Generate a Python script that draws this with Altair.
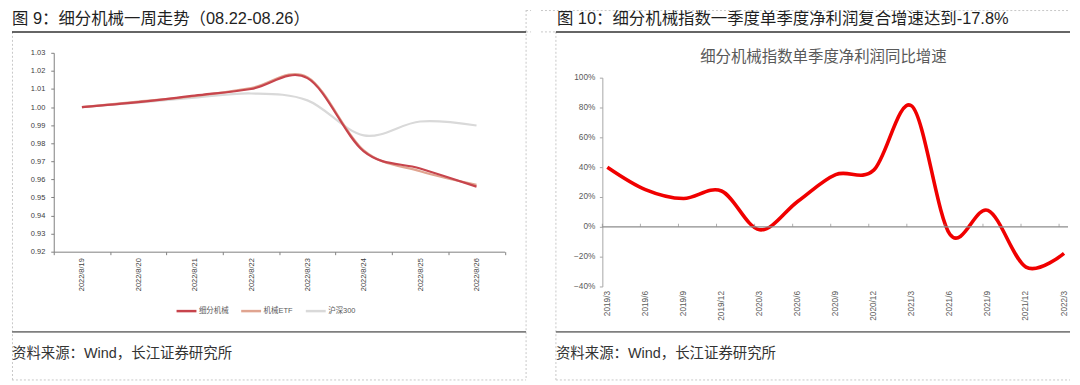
import altair as alt
import pandas as pd

# ---------------- data ----------------
dates = ["2022/8/19", "2022/8/20", "2022/8/21", "2022/8/22",
         "2022/8/23", "2022/8/24", "2022/8/25", "2022/8/26"]
xifen_jixie = [1.000, 1.0027, 1.0063, 1.0100, 1.0160, 0.9755, 0.9660, 0.9560]
jixie_etf = [1.000, 1.0030, 1.0060, 1.0105, 1.0165, 0.9760, 0.9645, 0.9570]
hs300 = [1.000, 1.0024, 1.0052, 1.0075, 1.0037, 0.9843, 0.9920, 0.9898]
series_names = ["细分机械", "机械ETF", "沪深300"]
series_colors = ["#C7444C", "#E0A490", "#D9D9D9"]
left_y_ticks = [0.92, 0.93, 0.94, 0.95, 0.96, 0.97, 0.98, 0.99, 1.00, 1.01, 1.02, 1.03]

quarters = ["2019/3", "2019/6", "2019/9", "2019/12", "2020/3", "2020/6", "2020/9",
            "2020/12", "2021/3", "2021/6", "2021/9", "2021/12", "2022/3"]
profit_growth = [0.40, 0.25, 0.19, 0.24, -0.02, 0.17, 0.35, 0.38, 0.81,
                 -0.05, 0.11, -0.27, -0.178]
right_y_ticks = [-0.4, -0.2, 0.0, 0.2, 0.4, 0.6, 0.8, 1.0]

left_title = "图 9：细分机械一周走势（08.22-08.26）"
right_title = "图 10：细分机械指数一季度单季度净利润复合增速达到-17.8%"
inner_title = "细分机械指数单季度净利润同比增速"
source_text = "资料来源：Wind，长江证券研究所"

FONT = "Liberation Sans, Noto Sans CJK SC"
LATIN = "Liberation Sans"
DASH_COLOR = "#C8C8C8"

one = pd.DataFrame({"k": [0]})


def rule(x, y, x2=None, y2=None, color="#000", width=1.0, dash=None):
    enc = dict(x=alt.value(x), y=alt.value(y))
    if x2 is not None:
        enc["x2"] = alt.value(x2)
    if y2 is not None:
        enc["y2"] = alt.value(y2)
    mk = dict(color=color, strokeWidth=width)
    if dash:
        mk["strokeDash"] = dash
    return alt.Chart(one).mark_rule(**mk).encode(**enc)


def text(s, x, y, size, color, align="left"):
    return alt.Chart(one).mark_text(
        text=s, align=align, baseline="middle", fontSize=size, color=color, font=FONT
    ).encode(x=alt.value(x), y=alt.value(y))


# ---------------- left panel ----------------
W1, H = 522, 372
rows = []
for name, vals in zip(series_names, [xifen_jixie, jixie_etf, hs300]):
    for d, v in zip(dates, vals):
        rows.append({"date": d, "series": name, "value": v})
ldf = pd.DataFrame(rows)

lx = alt.X("date:N", sort=dates,
           scale=alt.Scale(type="band", domain=dates, range=[42, 495.5],
                           paddingInner=0, paddingOuter=0),
           axis=alt.Axis(title=None, labelAngle=270, labelFontSize=7.5, labelFont=LATIN,
                         labelColor="#404040", tickBand="extent", tickSize=3,
                         tickColor="#808080", domainColor="#808080", domainWidth=1,
                         labelPadding=3, offset=-129, grid=False))
ly = alt.Y("value:Q",
           scale=alt.Scale(domain=[0.92, 1.03], range=[243, 43], nice=False, zero=False),
           axis=alt.Axis(title=None, values=left_y_ticks, format=".2f", offset=-42,
                         tickSize=3, labelPadding=6, labelFontSize=7.5, labelFont=LATIN,
                         labelColor="#404040", tickColor="#808080", domainColor="#808080",
                         grid=False))
lcolor = alt.Color("series:N",
                   scale=alt.Scale(domain=series_names, range=series_colors),
                   legend=alt.Legend(orient="none", legendX=164, legendY=291,
                                     direction="horizontal", title=None,
                                     symbolType="stroke", symbolSize=400,
                                     symbolStrokeWidth=2.5, labelFontSize=7.5,
                                     labelFont=FONT, labelColor="#595959",
                                     columnPadding=7, labelOffset=1, padding=0))

line_layers = []
for name in reversed(series_names):
    line_layers.append(
        alt.Chart(ldf[ldf["series"] == name]).mark_line(
            interpolate="cardinal", strokeWidth=2.2
        ).encode(x=lx, y=ly, color=lcolor)
    )

left = alt.layer(
    rule(0.5, 22, y2=372, color=DASH_COLOR, dash=[2, 2]),
    rule(517, 0, y2=372, color=DASH_COLOR, dash=[2, 2]),
    rule(0, 372, x2=517, color=DASH_COLOR, dash=[2, 2]),
    rule(517, 0.5, x2=522, color=DASH_COLOR, dash=[2, 2]),
    rule(517, 22, x2=522, color=DASH_COLOR, dash=[2, 2]),
    text(left_title, 0, 9.5, 16.5, "#1F1F1F"),
    rule(0, 22, x2=517, color="#333333", width=1.5),
    *line_layers,
    rule(0, 323.7, x2=517, color="#7F7F7F", width=1.8),
    text(source_text, 0, 345.5, 14.5, "#333333"),
).properties(width=W1, height=H)

# ---------------- right panel ----------------
W2 = 532
rdf = pd.DataFrame({"quarter": quarters, "growth": profit_growth})

rx = alt.X("quarter:O", sort=quarters,
           scale=alt.Scale(type="point", domain=quarters, range=[66.7, 526], padding=0),
           axis=alt.Axis(title=None, labelAngle=270, labelFontSize=8.3, labelFont=LATIN,
                         labelColor="#595959", ticks=False, domain=False,
                         labelPadding=4, offset=-94, grid=False))
ry = alt.Y("growth:Q",
           scale=alt.Scale(domain=[-0.4, 1.0], range=[278, 68], nice=False, zero=False),
           axis=alt.Axis(title=None, values=right_y_ticks, format=".0%", offset=-61.7,
                         tickSize=3, labelPadding=4.5, labelFontSize=8.3, labelFont=LATIN,
                         labelColor="#595959", tickColor="#A6A6A6", domainColor="#A6A6A6",
                         grid=False))

zero_df = pd.DataFrame({"growth": [0.0]})
zero_line = alt.Chart(zero_df).mark_rule(color="#8C8C8C", strokeWidth=1.3).encode(
    y=alt.Y("growth:Q", scale=alt.Scale(domain=[-0.4, 1.0], range=[278, 68], nice=False, zero=False)),
    x=alt.value(61.7), x2=alt.value(530))

zero_ticks = alt.Chart(rdf.assign(zero=0.0)).mark_tick(
    orient="vertical", size=3, thickness=1, color="#8C8C8C", xOffset=-5, yOffset=-1.5
).encode(x=alt.X("quarter:O", sort=quarters), y=alt.Y("zero:Q"))

red_line = alt.Chart(rdf).mark_line(
    interpolate="cardinal", strokeWidth=3.6, color="#F00000"
).encode(x=rx, y=ry)

right = alt.layer(
    rule(0, 0.5, x2=532, color=DASH_COLOR, dash=[2, 2]),
    rule(0, 22, x2=15, color=DASH_COLOR, dash=[2, 2]),
    rule(15, 22, y2=372, color=DASH_COLOR, dash=[2, 2]),
    rule(15, 372, x2=532, color=DASH_COLOR, dash=[2, 2]),
    text(right_title, 16, 9.5, 16.5, "#1F1F1F"),
    rule(15, 22, x2=532, color="#333333", width=1.5),
    text(inner_title, 284, 47.5, 15.5, "#595959", align="center"),
    red_line,
    zero_line,
    zero_ticks,
    rule(15, 323.7, x2=532, color="#7F7F7F", width=1.8),
    text(source_text, 15, 345.5, 14.5, "#333333"),
).properties(width=W2, height=H)

chart = alt.hconcat(left, right, spacing=10, bounds="flush").properties(
    padding=0, background="white"
).configure_view(stroke=None)

chart.save("out.html", embed_options={"renderer": "svg", "actions": False})
